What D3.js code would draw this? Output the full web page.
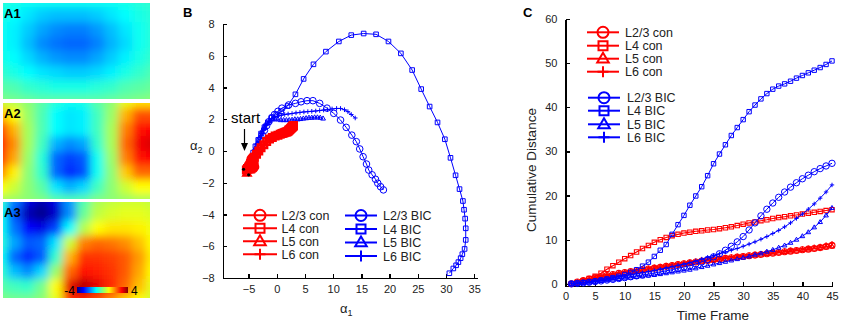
<!DOCTYPE html>
<html>
<head>
<meta charset="utf-8">
<title>Trajectories and cumulative distance</title>
<style>
  body { margin: 0; background: #fff; }
  text { font-family: "Liberation Sans", Arial, sans-serif; }
  .axis path, .axis line { fill: none; stroke: #000; stroke-width: 1.3; shape-rendering: crispEdges; }
  .axis text { font-size: 11px; fill: #222; }
  .plabel { font-weight: bold; font-size: 13px; }
  .leg { font-size: 12.5px; fill: #222; }
</style>
<script src="https://d3js.org/d3.v7.min.js"></script>
</head>
<body>
<script>
// ---------- panel A: maps (8 rows x 12 cols) ----------
var a1Grid = [
  [-0.7,-0.8,-0.9,-0.9,-0.9,-0.9,-0.9,-0.9,-0.9,-0.8,-0.7,-0.6],
  [-0.8,-1.0,-1.2,-1.4,-1.5,-1.5,-1.5,-1.4,-1.2,-1.0,-0.8,-0.7],
  [-0.9,-1.1,-1.4,-1.7,-1.9,-2.0,-2.0,-1.8,-1.5,-1.2,-0.9,-0.7],
  [-0.9,-1.1,-1.5,-1.9,-2.1,-2.2,-2.2,-2.0,-1.6,-1.3,-0.9,-0.7],
  [-0.8,-1.0,-1.3,-1.6,-1.8,-1.9,-1.9,-1.7,-1.4,-1.1,-0.8,-0.6],
  [-0.6,-0.8,-1.0,-1.2,-1.3,-1.4,-1.4,-1.3,-1.1,-0.8,-0.6,-0.4],
  [-0.3,-0.4,-0.6,-0.7,-0.8,-0.8,-0.8,-0.7,-0.6,-0.4,-0.3,-0.2],
  [ 0.0,-0.1,-0.2,-0.3,-0.3,-0.3,-0.3,-0.3,-0.2,-0.1, 0.0, 0.1]
];
var a2Grid = [
  [0.6, 0.4, 0.1,-0.3,-0.7,-0.9,-0.8,-0.3, 0.1, 0.8, 1.2, 1.2],
  [1.6, 1.0, 0.2,-0.4,-1.0,-1.2,-1.1,-0.5, 0.2, 1.6, 2.4, 2.4],
  [2.6, 1.6, 0.3,-0.4,-1.0,-1.2,-1.1,-0.5, 0.3, 2.0, 2.9, 3.0],
  [3.0, 1.9, 0.3,-0.5,-1.6,-1.9,-1.7,-0.6, 0.3, 2.2, 3.1, 3.3],
  [2.8, 1.7, 0.2,-0.7,-2.2,-2.5,-2.3,-0.9, 0.2, 2.0, 2.9, 3.0],
  [2.0, 1.1, 0.1,-0.6,-2.2,-2.7,-2.4,-0.9, 0.1, 1.4, 2.2, 2.2],
  [1.0, 0.6, 0.1,-0.3,-1.2,-1.6,-1.3,-0.5, 0.1, 0.6, 1.0, 1.0],
  [0.3, 0.2, 0.1, 0.0,-0.3,-0.4,-0.3, 0.0, 0.1, 0.2, 0.3, 0.3]
];
var a3Grid = [
  [-0.6,-2.0,-3.2,-3.6,-3.2,-1.8,-0.4, 0.3, 0.5, 0.6, 0.6, 0.5],
  [-0.9,-2.4,-3.6,-3.9,-3.4,-1.9,-0.2, 0.5, 0.7, 0.8, 0.8, 0.7],
  [-0.9,-2.1,-3.0,-3.2,-2.5,-1.0, 0.4, 1.0, 1.2, 1.2, 1.1, 0.9],
  [-0.7,-1.7,-2.3,-2.2,-1.2, 0.6, 2.0, 2.2, 2.1, 1.9, 1.5, 1.0],
  [-0.9,-2.2,-2.7,-2.3,-0.6, 1.6, 2.6, 2.6, 2.5, 2.3, 1.8, 1.1],
  [-0.6,-1.5,-1.9,-1.3, 0.2, 2.2, 2.9, 2.8, 2.6, 2.3, 1.7, 1.0],
  [-0.3,-0.5,-0.6,-0.1, 1.0, 3.2, 3.6, 3.2, 2.7, 2.2, 1.5, 0.8],
  [ 0.0,-0.1,-0.1, 0.1, 0.8, 2.6, 2.8, 2.4, 1.9, 1.4, 1.0, 0.6]
];
var mapNames = ["A1", "A2", "A3"];
var jetStops = [-4, -3, -1, 1, 3, 4];
var jetColors = ["#000080", "#0000ff", "#00ffff", "#ffff00", "#ff0000", "#800000"];

// ---------- panel B: trajectories [alpha1, alpha2] ----------
var bL23bic = [[-4.8,-1.2],[-4.5,-0.9],[-4.2,-0.6],[-3.9,-0.3],[-3.6,0.0],[-3.3,0.35],[-3.0,0.7],[-2.6,1.0],[-2.2,1.3],[-1.8,1.6],
  [-1.4,1.85],[-0.9,2.1],[-0.4,2.3],[0.2,2.5],[0.9,2.7],[2.1,2.9],[3.3,3.0],[4.3,3.1],[5.35,3.17],[6.4,3.17],
  [7.6,3.0],[8.9,2.7],[10.1,2.37],[11.3,1.95],[12.3,1.49],[13.3,1.0],[14.1,0.59],[14.7,0.13],[15.3,-0.36],[15.9,-0.82],
  [16.3,-1.2],[16.9,-1.5],[17.5,-1.78],[17.9,-2.03],[18.4,-2.25],[18.9,-2.45]];
var bL4bic = [[-5.2,-1.0],[-4.9,-0.8],[-4.6,-0.5],[-4.2,-0.1],[-3.8,0.3],[-3.3,0.7],[-2.8,1.1],[-2.2,1.5],[-1.6,1.8],[-0.9,2.1],
  [-0.1,2.3],[0.8,2.5],[1.9,2.83],[3.3,3.57],[4.75,4.54],[6.5,5.46],[8.7,6.26],[11.0,6.9],[13.2,7.3],[15.4,7.4],
  [17.6,7.35],[19.8,6.9],[22.0,6.15],[24.0,5.1],[25.6,3.9],[27.1,2.8],[28.5,1.8],[29.8,0.74],[30.8,-0.43],[31.7,-1.53],
  [32.4,-2.4],[33.0,-3.15],[33.2,-3.7],[33.4,-4.26],[33.5,-4.87],[33.5,-5.6],[33.3,-6.17],[32.9,-6.5],[32.6,-6.75],[32.2,-7.0],
  [31.8,-7.2],[31.3,-7.4],[30.6,-7.7]];
var bL5bic = [[-5.1,-1.1],[-4.8,-0.8],[-4.5,-0.5],[-4.2,-0.2],[-3.9,0.15],[-3.5,0.5],[-3.1,0.85],[-2.7,1.2],[-2.3,1.5],[-1.8,1.75],
  [-1.3,1.9],[-0.8,2.0],[-0.3,2.0],[0.2,2.0],[0.7,1.95],[1.2,1.95],[1.7,1.95],[2.2,1.95],[2.7,1.97],[3.2,2.0],
  [3.7,2.0],[4.2,2.02],[4.7,2.05],[5.2,2.07],[5.7,2.1],[6.2,2.1],[6.7,2.12],[7.2,2.12],[7.7,2.1],[8.2,2.05]];
var bL6bic = [[-5.0,-1.3],[-4.7,-1.0],[-4.4,-0.7],[-4.1,-0.4],[-3.8,-0.1],[-3.5,0.25],[-3.1,0.6],[-2.7,0.95],[-2.3,1.3],[-1.9,1.6],
  [-1.4,1.85],[-0.9,2.05],[-0.4,2.15],[0.2,2.2],[0.8,2.25],[1.4,2.3],[2.0,2.33],[2.7,2.36],[3.4,2.4],[4.1,2.43],
  [4.8,2.46],[5.5,2.48],[6.2,2.5],[6.9,2.52],[7.6,2.55],[8.3,2.58],[9.0,2.6],[9.8,2.65],[10.6,2.68],[11.3,2.68],
  [12.0,2.6],[12.6,2.48],[13.2,2.3],[13.9,2.08]];
var bL23con = [[-5.0,-1.2],[-4.8,-1.0],[-4.6,-0.9],[-4.4,-0.8],[-4.2,-0.7],[-4.0,-0.6],[-4.1,-0.5],[-4.3,-0.6],
  [-4.5,-0.7],[-4.6,-0.5],[-4.4,-0.4],[-4.2,-0.5],[-4.0,-0.8],[-3.9,-1.0],[-4.1,-1.1],[-4.3,-1.0]];
var bL4con = [[-5.4,-1.2],[-5.2,-1.1],[-5.0,-1.0],[-4.8,-0.9],[-4.6,-0.8],[-4.3,-0.6],[-4.0,-0.4],[-3.6,-0.2],[-3.2,0.0],[-2.8,0.2],
  [-2.3,0.4],[-1.8,0.6],[-1.3,0.75],[-0.8,0.85],[-0.3,0.95],[0.2,1.0],[0.6,1.05],[0.9,1.1],[1.1,1.12],[1.3,1.15],
  [1.5,1.18],[1.7,1.2],[1.85,1.22],[2.0,1.25],[2.1,1.3],[2.2,1.33],[2.3,1.36],[2.4,1.4],[2.5,1.43],[2.6,1.46],
  [2.7,1.5],[2.75,1.53],[2.8,1.55],[2.85,1.57],[2.9,1.58],[2.95,1.6]];
var bL5con = [[-5.3,-1.4],[-5.1,-1.2],[-4.9,-1.0],[-4.7,-0.8],[-4.9,-0.7],[-5.1,-0.8],[-5.2,-1.0],[-5.0,-1.1],
  [-4.8,-1.2],[-4.6,-1.0],[-4.4,-0.9],[-4.5,-0.7]];
var bL6con = [[-5.5,-1.0],[-5.3,-0.9],[-5.1,-0.8],[-4.9,-0.6],[-4.7,-0.5],[-4.5,-0.4],[-4.3,-0.5],[-4.5,-0.6],
  [-4.7,-0.7],[-4.9,-0.9],[-5.1,-1.1],[-5.3,-1.2]];
var bStart = [[-5.9,-1.15],[-5.0,-1.5]];
var bXTicks = [-5, 0, 5, 10, 15, 20, 25, 30, 35];
var bYTicks = [-8, -6, -4, -2, 0, 2, 4, 6, 8];

// ---------- panel C: cumulative distance per time frame ----------
var frames = d3.range(1, 46);
var cL23con = [0,0.4,0.75,1.05,1.35,1.6,1.85,2.1,2.35,2.55, 2.75,2.95,3.15,3.35,3.55,3.75,3.95,4.15,4.35,4.55,
  4.75,4.95,5.15,5.3,5.45,5.6,5.75,5.9,6.05,6.2, 6.35,6.5,6.65,6.8,6.95,7.1,7.25,7.4,7.55,7.7, 7.85,8.0,8.2,8.45,8.7];
var cL4con = [0,0.3,0.7,1.2,1.7,2.4,3.3,4.1,4.9,5.7, 6.4,7.2,8.0,8.7,9.4,10.0,10.5,10.9,11.2,11.5,
  11.7,11.9,12.0,12.2,12.3,12.5,12.7,12.9,13.2,13.5, 13.8,14.0,14.3,14.5,14.8,15.0,15.2,15.4,15.6,15.8, 16.0,16.2,16.4,16.6,16.8];
var cL5con = [0,0.35,0.7,1.0,1.3,1.55,1.8,2.05,2.3,2.5, 2.7,2.9,3.1,3.3,3.5,3.7,3.9,4.1,4.3,4.5,
  4.7,4.9,5.1,5.25,5.4,5.55,5.7,5.85,6.0,6.15, 6.3,6.45,6.6,6.75,6.9,7.05,7.2,7.35,7.5,7.65, 7.8,7.95,8.1,8.3,8.5];
var cL6con = [0,0.5,0.9,1.2,1.5,1.8,2.1,2.35,2.6,2.85, 3.05,3.25,3.45,3.65,3.85,4.05,4.25,4.45,4.65,4.85,
  5.05,5.25,5.45,5.6,5.75,5.9,6.05,6.2,6.35,6.5, 6.65,6.8,6.95,7.1,7.25,7.4,7.55,7.7,7.85,8.0, 8.2,8.4,8.6,8.9,9.2];
var cL23bic = [0,0.1,0.2,0.35,0.5,0.65,0.85,1.0,1.2,1.4, 1.6,1.8,2.0,2.2,2.45,2.7,2.95,3.2,3.5,3.8,
  4.1,4.5,4.95,5.5,6.1,6.8,7.6,8.5,9.5,10.7, 12.2,13.8,15.4,16.9,18.3,19.6,20.8,21.9,22.9,23.8, 24.6,25.4,26.1,26.7,27.3];
var cL4bic = [0,0.1,0.25,0.4,0.6,0.85,1.1,1.4,1.7,2.1, 2.6,3.2,4.0,4.9,6.2,7.6,8.9,11.2,13.4,15.5,
  17.8,19.9,22.0,24.5,27.2,29.4,31.5,33.6,35.4,37.2, 39.0,40.5,41.9,43.1,44.1,44.8,45.3,45.9,46.6,47.2, 47.8,48.4,49.0,49.7,50.5];
var cL5bic = [0,0.1,0.2,0.35,0.5,0.65,0.8,0.95,1.1,1.25, 1.4,1.55,1.7,1.85,2.0,2.2,2.4,2.6,2.8,3.0,
  3.2,3.5,3.8,4.1,4.4,4.7,5.0,5.3,5.6,5.9, 6.2,6.6,6.9,7.3,7.7,8.2,8.7,9.3,10.0,10.8, 11.7,12.8,14.0,15.5,17.2];
var cL6bic = [0,0.15,0.3,0.5,0.7,0.9,1.1,1.3,1.55,1.8, 2.0,2.25,2.5,2.75,3.0,3.3,3.6,3.9,4.2,4.5,
  4.8,5.2,5.6,6.0,6.4,6.8,7.2,7.6,8.0,8.5, 9.0,9.5,10.1,10.7,11.4,12.1,12.9,13.8,14.8,15.8, 16.9,18.1,19.4,20.8,22.4];
var cXTicks = [0, 5, 10, 15, 20, 25, 30, 35, 40, 45];
var cYTicks = [0, 10, 20, 30, 40, 50, 60];

var conNames = ["L2/3 con", "L4 con", "L5 con", "L6 con"];
var bicNames = ["L2/3 BIC", "L4 BIC", "L5 BIC", "L6 BIC"];
var markerTypes = ["circle", "square", "triangle", "plus"];

var RED = "#ff0000", BLUE = "#0000ff";

var svg = d3.select("body").append("svg")
  .attr("width", 843).attr("height", 325);

// marker shapes centred on 0,0
function markerPath(type, s) {
  if (type === "circle")
    return "M" + s + ",0A" + s + "," + s + " 0 1,1 " + (-s) + ",0A" + s + "," + s + " 0 1,1 " + s + ",0Z";
  if (type === "square")
    return "M" + (-s) + "," + (-s) + "H" + s + "V" + s + "H" + (-s) + "Z";
  if (type === "triangle")
    return "M0," + (-s * 1.1) + "L" + (s * 1.05) + "," + (s * 0.7) + "L" + (-s * 1.05) + "," + (s * 0.7) + "Z";
  return "M" + (-s) + ",0H" + s + "M0," + (-s) + "V" + s;
}

function drawSeries(g, pts, xs, ys, color, type, ms, lw) {
  var line = d3.line().x(function (d) { return xs(d[0]); }).y(function (d) { return ys(d[1]); });
  g.append("path").datum(pts)
    .attr("d", line).attr("fill", "none")
    .attr("stroke", color).attr("stroke-width", lw);
  g.selectAll(null).data(pts).enter().append("path")
    .attr("transform", function (d) { return "translate(" + xs(d[0]) + "," + ys(d[1]) + ")"; })
    .attr("d", markerPath(type, ms))
    .attr("fill", "none").attr("stroke", color).attr("stroke-width", lw);
}

function legendRow(g, x0, x1, y, color, type, label, tx) {
  var ms = type === "square" ? 4.5 : 5.5;
  g.append("line").attr("x1", x0).attr("x2", x1).attr("y1", y).attr("y2", y)
    .attr("stroke", color).attr("stroke-width", 2);
  g.append("path").attr("transform", "translate(" + ((x0 + x1) / 2) + "," + y + ")")
    .attr("d", markerPath(type, ms)).attr("fill", "none")
    .attr("stroke", color).attr("stroke-width", 2);
  g.append("text").attr("class", "leg").attr("x", tx).attr("y", y + 4.5).text(label);
}

// ---------- panel A ----------
var jet = d3.scaleLinear().domain(jetStops).range(jetColors).clamp(true);
var defs = svg.append("defs");
defs.append("filter").attr("id", "smooth")
  .attr("x", "-5%").attr("y", "-5%").attr("width", "110%").attr("height", "110%")
  .append("feGaussianBlur").attr("stdDeviation", 4.5);

var mapBoxes = [{ y0: 3, y1: 99 }, { y0: 103, y1: 199 }, { y0: 202, y1: 298 }];
var grids = [a1Grid, a2Grid, a3Grid];
var mapX0 = 3, mapX1 = 150;
grids.forEach(function (grid, k) {
  var box = mapBoxes[k];
  defs.append("clipPath").attr("id", "clipA" + k)
    .append("rect").attr("x", mapX0).attr("y", box.y0)
    .attr("width", mapX1 - mapX0).attr("height", box.y1 - box.y0);
  var gx = d3.scaleBand().domain(d3.range(grid[0].length)).range([mapX0 - 10, mapX1 + 10]);
  var gy = d3.scaleBand().domain(d3.range(grid.length)).range([box.y0 - 10, box.y1 + 10]);
  var cells = [];
  grid.forEach(function (row, r) { row.forEach(function (v, c) { cells.push({ r: r, c: c, v: v }); }); });
  svg.append("g").attr("clip-path", "url(#clipA" + k + ")")
    .append("g").attr("filter", "url(#smooth)")
    .selectAll("rect").data(cells).enter().append("rect")
    .attr("x", function (d) { return gx(d.c); })
    .attr("y", function (d) { return gy(d.r); })
    .attr("width", gx.bandwidth() + 0.5).attr("height", gy.bandwidth() + 0.5)
    .attr("fill", function (d) { return jet(d.v); });
  svg.append("text").attr("class", "plabel").attr("x", 4).attr("y", box.y0 + 15).text(mapNames[k]);
});

// colour bar
var grad = defs.append("linearGradient").attr("id", "jetbar");
jetStops.forEach(function (v, i) {
  grad.append("stop").attr("offset", ((v + 4) / 8 * 100) + "%").attr("stop-color", jetColors[i]);
});
svg.append("rect").attr("x", 77).attr("y", 287).attr("width", 51).attr("height", 6).attr("fill", "url(#jetbar)");
svg.append("text").attr("x", 75).attr("y", 294.5).attr("text-anchor", "end").style("font-size", "12px").text("-4");
svg.append("text").attr("x", 131).attr("y", 294.5).style("font-size", "12px").text("4");

// ---------- panel B ----------
var bx = d3.scaleLinear().domain([-9.6, 35.5]).range([222.7, 477]);
var by = d3.scaleLinear().domain([-8, 8]).range([278, 24]);
var gB = svg.append("g");

gB.append("g").attr("class", "axis").attr("transform", "translate(0,278)")
  .call(d3.axisBottom(bx).tickValues(bXTicks).tickSizeInner(-4).tickSizeOuter(0).tickPadding(7));
gB.append("g").attr("class", "axis").attr("transform", "translate(222.7,0)")
  .call(d3.axisLeft(by).tickValues(bYTicks).tickSizeInner(-4).tickSizeOuter(0).tickPadding(8));

[bL23bic, bL4bic, bL5bic, bL6bic].forEach(function (s, i) {
  drawSeries(gB, s, bx, by, BLUE, markerTypes[i], i === 0 ? 3.3 : 2.3, 1);
});
[bL23con, bL4con, bL5con, bL6con].forEach(function (s, i) {
  drawSeries(gB, s, bx, by, RED, markerTypes[i], 3.2, 2.6);
});
gB.selectAll(".startpt").data(bStart).enter().append("circle")
  .attr("cx", function (d) { return bx(d[0]); }).attr("cy", function (d) { return by(d[1]); })
  .attr("r", 1.6).attr("fill", "#000");

svg.append("text").attr("class", "plabel").attr("x", 183).attr("y", 17).text("B");
svg.append("text").attr("x", 231).attr("y", 123).style("font-size", "15px").text("start");
svg.append("line").attr("x1", 244.5).attr("x2", 244.5).attr("y1", 129).attr("y2", 144)
  .attr("stroke", "#000").attr("stroke-width", 1.2);
svg.append("path").attr("d", "M241,143L248,143L244.5,151Z").attr("fill", "#000");

var a2 = svg.append("text").attr("x", 190).attr("y", 150).style("font-size", "13px").attr("fill", "#222");
a2.append("tspan").text("\u03b1");
a2.append("tspan").attr("dy", 3).style("font-size", "9px").text("2");
var a1 = svg.append("text").attr("x", 340).attr("y", 313).style("font-size", "13px").attr("fill", "#222");
a1.append("tspan").text("\u03b1");
a1.append("tspan").attr("dy", 3).style("font-size", "9px").text("1");

var legB = svg.append("g");
var bLeftRows = [215.3, 228.3, 241.3, 254.3], bRightRows = [215.5, 229, 242.5, 256];
conNames.forEach(function (n, i) {
  legendRow(legB, 243, 277, bLeftRows[i], RED, markerTypes[i], n, 281.5);
});
bicNames.forEach(function (n, i) {
  legendRow(legB, 345, 377, bRightRows[i], BLUE, markerTypes[i], n, 383);
});

// ---------- panel C ----------
var cx = d3.scaleLinear().domain([0, 45]).range([565.5, 832]);
var cy = d3.scaleLinear().domain([-0.5, 60]).range([286, 19]);
var gC = svg.append("g");

gC.append("g").attr("class", "axis").attr("transform", "translate(0,286)")
  .call(d3.axisBottom(cx).tickValues(cXTicks).tickSizeInner(-4).tickSizeOuter(0).tickPadding(6));
gC.append("g").attr("class", "axis").attr("transform", "translate(565.5,0)")
  .call(d3.axisLeft(cy).tickValues(cYTicks).tickSizeInner(-4).tickSizeOuter(0).tickPadding(8));

function pair(vals) { return frames.map(function (f, i) { return [f, vals[i]]; }); }
[cL23con, cL4con, cL5con, cL6con].forEach(function (s, i) {
  drawSeries(gC, pair(s), cx, cy, RED, markerTypes[i], i === 0 ? 3 : 2.2, 1.1);
});
[cL23bic, cL4bic, cL5bic, cL6bic].forEach(function (s, i) {
  drawSeries(gC, pair(s), cx, cy, BLUE, markerTypes[i], i === 0 ? 3.2 : 2.2, 1);
});

svg.append("text").attr("class", "plabel").attr("x", 523).attr("y", 17).text("C");
svg.append("text").attr("transform", "translate(536,170) rotate(-90)").attr("text-anchor", "middle")
  .style("font-size", "13.5px").attr("fill", "#222").text("Cumulative Distance");
svg.append("text").attr("x", 713).attr("y", 320).attr("text-anchor", "middle")
  .style("font-size", "13.5px").attr("fill", "#222").text("Time Frame");

var legC = svg.append("g");
var cRedRows = [32.3, 45.7, 58.7, 71.7], cBlueRows = [97.7, 110.7, 124.3, 137.3];
conNames.forEach(function (n, i) {
  legendRow(legC, 587, 619, cRedRows[i], RED, markerTypes[i], n, 625);
});
bicNames.forEach(function (n, i) {
  legendRow(legC, 588, 620, cBlueRows[i], BLUE, markerTypes[i], n, 627);
});
</script>
</body>
</html>
